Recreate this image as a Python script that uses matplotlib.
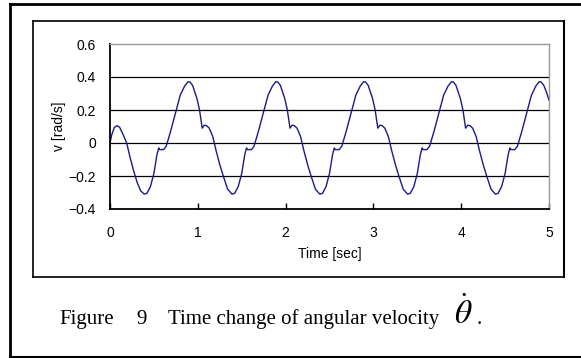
import matplotlib.pyplot as plt
from matplotlib.lines import Line2D

# time [sec] and angular velocity [rad/s]
t = [0.00, 0.02, 0.05, 0.08, 0.11, 0.15, 0.19, 0.23, 0.27, 0.31, 0.35, 0.39,
     0.42, 0.46, 0.50, 0.535, 0.555, 0.565, 0.61, 0.64, 0.69, 0.75, 0.80, 0.85, 0.89, 0.91, 0.94,
     0.99, 1.02, 1.05, 1.075, 1.10, 1.13, 1.17, 1.21, 1.25, 1.29, 1.34, 1.39,
     1.42, 1.46, 1.50, 1.535, 1.555, 1.565, 1.61, 1.64, 1.69, 1.75, 1.80, 1.85, 1.89, 1.91, 1.94,
     1.99, 2.02, 2.05, 2.075, 2.10, 2.13, 2.17, 2.21, 2.25, 2.29, 2.34, 2.39,
     2.42, 2.46, 2.50, 2.535, 2.555, 2.565, 2.61, 2.64, 2.69, 2.75, 2.80, 2.85, 2.89, 2.91, 2.94,
     2.99, 3.02, 3.05, 3.075, 3.10, 3.13, 3.17, 3.21, 3.25, 3.29, 3.34, 3.39,
     3.42, 3.46, 3.50, 3.535, 3.555, 3.565, 3.61, 3.64, 3.69, 3.75, 3.80, 3.85, 3.89, 3.91, 3.94,
     3.99, 4.02, 4.05, 4.075, 4.10, 4.13, 4.17, 4.21, 4.25, 4.29, 4.34, 4.39,
     4.42, 4.46, 4.50, 4.535, 4.555, 4.565, 4.61, 4.64, 4.69, 4.75, 4.80, 4.85, 4.89, 4.91, 4.94,
     4.97, 5.00]
v = [0.00, 0.05, 0.095, 0.105, 0.095, 0.05, 0.00, -0.09, -0.17, -0.24, -0.29, -0.31,
     -0.305, -0.265, -0.185, -0.07, -0.03, -0.04, -0.04, -0.02, 0.07, 0.19, 0.29, 0.345, 0.372, 0.37, 0.35,
     0.27, 0.20, 0.09, 0.108, 0.105, 0.09, 0.04, -0.05, -0.13, -0.20, -0.28, -0.31,
     -0.305, -0.265, -0.185, -0.07, -0.03, -0.04, -0.04, -0.02, 0.07, 0.19, 0.29, 0.345, 0.372, 0.37, 0.35,
     0.27, 0.20, 0.09, 0.108, 0.105, 0.09, 0.04, -0.05, -0.13, -0.20, -0.28, -0.31,
     -0.305, -0.265, -0.185, -0.07, -0.03, -0.04, -0.04, -0.02, 0.07, 0.19, 0.29, 0.345, 0.372, 0.37, 0.35,
     0.27, 0.20, 0.09, 0.108, 0.105, 0.09, 0.04, -0.05, -0.13, -0.20, -0.28, -0.31,
     -0.305, -0.265, -0.185, -0.07, -0.03, -0.04, -0.04, -0.02, 0.07, 0.19, 0.29, 0.345, 0.372, 0.37, 0.35,
     0.27, 0.20, 0.09, 0.108, 0.105, 0.09, 0.04, -0.05, -0.13, -0.20, -0.28, -0.31,
     -0.305, -0.265, -0.185, -0.07, -0.03, -0.04, -0.04, -0.02, 0.07, 0.19, 0.29, 0.345, 0.372, 0.37, 0.35,
     0.31, 0.26]

xticks = [0, 1, 2, 3, 4, 5]
yticks = [-0.4, -0.2, 0, 0.2, 0.4, 0.6]
ytick_labels = ['\u22120.4', '\u22120.2', '0', '0.2', '0.4', '0.6']

W, H = 581, 358
fig = plt.figure(figsize=(W / 100, H / 100), dpi=100)

def px(x0, y0, x1, y1, **kw):
    fig.add_artist(Line2D([x0 / W, x1 / W], [1 - y0 / H, 1 - y1 / H],
                          transform=fig.transFigure, color='black', **kw))

# outer frame (right edge is off the page)
px(10, 4, 600, 4, lw=2)
px(10, 4, 10, 357, lw=2)
px(10, 357, 600, 357, lw=1.5)
# chart frame
px(33, 21, 564, 21, lw=1.2)
px(33, 21, 33, 277, lw=1.2)
px(33, 277, 564, 277, lw=1.2)
px(564, 21, 564, 277, lw=1.5)

ax = fig.add_axes([110 / W, 1 - 209 / H, 439 / W, 165 / H])
ax.plot(t, v, color='#1a1a8c', lw=1.0)
ax.set_xlim(0, 5)
ax.set_ylim(-0.4, 0.6)
ax.set_xticks(xticks)
ax.set_yticks(yticks)
ax.set_yticklabels(ytick_labels)
for y in [-0.2, 0, 0.2, 0.4]:
    ax.axhline(y, color='black', lw=0.9, zorder=0)

for s in ['left', 'bottom']:
    ax.spines[s].set_linewidth(1.3)
for s in ['top', 'right']:
    ax.spines[s].set_color('#999999')
    ax.spines[s].set_linewidth(1.0)

sans = 'Liberation Sans'
ax.tick_params(axis='x', direction='in', length=4, width=1, pad=12)
ax.tick_params(axis='y', direction='in', length=0, pad=10)
for lab in ax.get_xticklabels() + ax.get_yticklabels():
    lab.set_fontfamily(sans)
    lab.set_fontsize(10)
ax.set_xlabel('Time [sec]', fontfamily=sans, fontsize=10, labelpad=5)
ax.set_ylabel('v [rad/s]', fontfamily=sans, fontsize=10, labelpad=2)

serif = 'Liberation Serif'
base = 1 - 324 / H
fig.text(59 / W, base, 'Figure', fontfamily=serif, fontsize=15, va='baseline')
fig.text(136 / W, base, '9', fontfamily=serif, fontsize=15, va='baseline')
fig.text(168 / W, base, 'Time change of angular velocity', fontfamily=serif,
         fontsize=15, va='baseline')
plt.rcParams['mathtext.fontset'] = 'stix'
fig.text(454 / W, base, r'$\dot{\theta}$', fontsize=24, va='baseline')
fig.text(477 / W, base, '.', fontfamily=serif, fontsize=15, va='baseline')

fig.savefig('out.png', dpi=100)
